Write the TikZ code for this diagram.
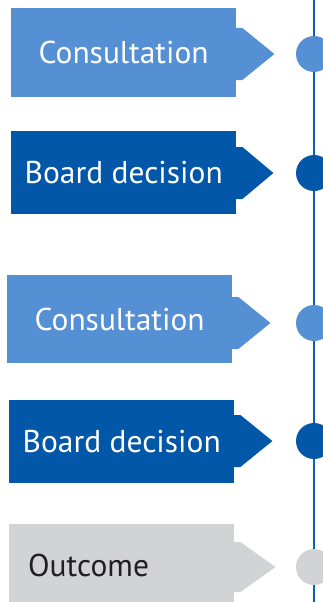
\documentclass[tikz,border=0pt]{standalone}
\usepackage{fontspec}
\setmainfont{PT Sans}
\definecolor{lblue}{HTML}{5590D5}
\definecolor{dblue}{HTML}{0257A8}
\definecolor{lgray}{HTML}{D1D3D4}
\definecolor{linec}{HTML}{0F5DB0}
\definecolor{dtext}{HTML}{231F20}
\tikzset{
  stagebox/.style={rectangle, inner sep=0pt, minimum width=225pt, anchor=north west,
    font=\fontsize{31.5}{36}\selectfont, text=white},
  dot/.style={circle, inner sep=0pt, minimum size=36pt},
  spine/.style={draw=linec, line width=2pt},
}
\begin{document}
\begin{tikzpicture}[x=1pt, y=-1pt]
\useasboundingbox (0,0) rectangle (322,602);
\coordinate (top) at (313.5,0);
\coordinate (bot) at (313.5,602);
\draw[spine] (top) -- (bot);

% stage 1
\node[stagebox, fill=lblue, minimum height=89pt] (b1) at (11,8) {Consultation};
\node[dot, fill=lblue] (c1) at (314,54) {};
\fill[lblue] ([xshift=-0.5pt]b1.east |- c1) ++(0,-26) -- ++(6.5,0) -- ++(32,26) -- ++(-32,26) -- ++(-6.5,0) -- cycle;

% stage 2
\node[stagebox, fill=dblue, minimum height=83pt] (b2) at (11,131) {Board decision};
\node[dot, fill=dblue] (c2) at (314,173) {};
\fill[dblue] ([xshift=-0.5pt]b2.east |- c2) ++(0,-26) -- ++(6.5,0) -- ++(31,26) -- ++(-31,26) -- ++(-6.5,0) -- cycle;

% stage 3
\node[stagebox, fill=lblue, minimum height=88pt] (b3) at (7,275) {Consultation};
\node[dot, fill=lblue] (c3) at (314,323) {};
\fill[lblue] ([xshift=-0.5pt]b3.east |- c3) ++(0,-26) -- ++(6.5,0) -- ++(32,26) -- ++(-32,26) -- ++(-6.5,0) -- cycle;

% stage 4
\node[stagebox, fill=dblue, minimum height=83pt] (b4) at (9,400) {Board decision};
\node[dot, fill=dblue] (c4) at (314,441) {};
\fill[dblue] ([xshift=-0.5pt]b4.east |- c4) ++(0,-26) -- ++(6.5,0) -- ++(32,26) -- ++(-32,26) -- ++(-6.5,0) -- cycle;

% stage 5
\node[stagebox, fill=lgray, text=dtext, minimum height=82pt, inner xsep=19pt, text width=187pt, align=left] (b5) at (9,524) {Outcome};
\node[dot, fill=lgray] (c5) at (314,567) {};
\fill[lgray] ([xshift=-0.5pt]b5.east |- c5) ++(0,-25) -- ++(6.5,0) -- ++(35,25) -- ++(-35,25) -- ++(-6.5,0) -- cycle;
\end{tikzpicture}
\end{document}
